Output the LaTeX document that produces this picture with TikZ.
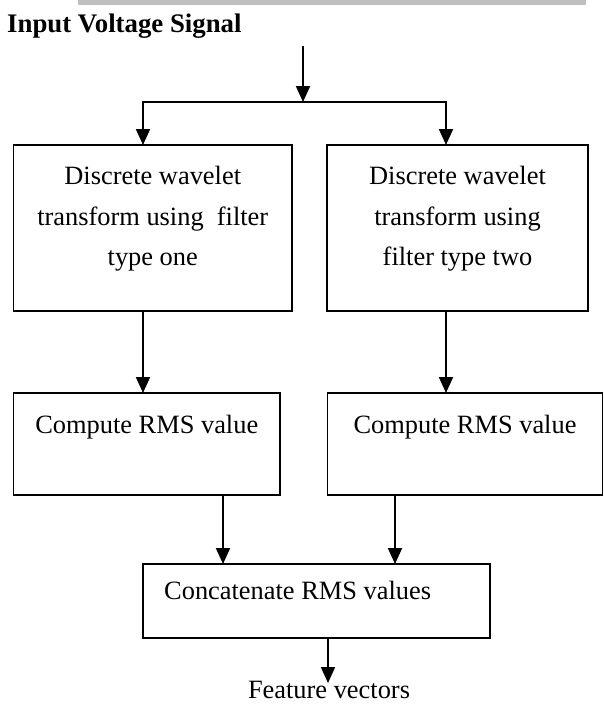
\documentclass[tikz,border=0pt]{standalone}
\usepackage{fontspec}
\setmainfont{Liberation Serif}
\usetikzlibrary{arrows.meta}
\begin{document}
\begin{tikzpicture}[x=1pt,y=-1pt,
  box/.style={draw, line width=1.6pt, rectangle, inner sep=0pt, outer sep=0pt},
  txt/.style={anchor=base, inner sep=0pt, font=\fontsize{26.4}{40}\selectfont},
  conn/.style={line width=2pt},
  arr/.style={conn, -{Triangle[length=16pt,width=14pt]}}]
\useasboundingbox (0,0) rectangle (604,704);
\fill[gray!50] (78,0) rectangle (586,5);

% boxes
\node[box, minimum width=278.5pt, minimum height=166pt] (b1) at (152.75,228) {};
\node[box, minimum width=261pt, minimum height=166pt] (b2) at (457.5,228) {};
\node[box, minimum width=266.5pt, minimum height=102pt] (b3) at (146.75,444) {};
\node[box, minimum width=275pt, minimum height=102pt] (b4) at (465,444) {};
\node[box, minimum width=347pt, minimum height=74pt] (b5) at (316.5,601) {};

% texts
\node[txt, anchor=base west, font=\fontsize{26.8}{40}\selectfont\bfseries] (title) at (7,32) {Input Voltage Signal};
\node[txt] (t1a) at (152.75,184) {Discrete wavelet};
\node[txt] (t1b) at (152.75,225) {transform using\ \ filter};
\node[txt] (t1c) at (152.75,265) {type one};
\node[txt] (t2a) at (457.5,184) {Discrete wavelet};
\node[txt] (t2b) at (457.5,225) {transform using};
\node[txt] (t2c) at (457.5,265) {filter type two};
\node[txt] (t3) at (146.75,433) {Compute RMS value};
\node[txt] (t4) at (465,433) {Compute RMS value};
\node[txt, anchor=base west] (t5) at (164,599) {Concatenate RMS values};
\node[txt] (fv) at (329,698) {Feature vectors};

% connectors
\coordinate (in) at (303,46);
\coordinate (split) at (303,102);
\coordinate (sl) at (143,102);
\coordinate (sr) at (446,102);
\coordinate (c3) at (223,0);
\coordinate (c4) at (395,0);
\coordinate (out) at (328,683);
\draw[arr] (in) -- (split);
\draw[conn, line cap=rect] (sl) -- (sr);
\draw[arr] (sl) -- (sl |- b1.north);
\draw[arr] (sr) -- (sr |- b2.north);
\draw[arr] (sl |- b1.south) -- (sl |- b3.north);
\draw[arr] (sr |- b2.south) -- (sr |- b4.north);
\draw[arr] (c3 |- b3.south) -- (c3 |- b5.north);
\draw[arr] (c4 |- b4.south) -- (c4 |- b5.north);
\draw[arr] (b5.south -| out) -- (out);
\end{tikzpicture}
\end{document}
